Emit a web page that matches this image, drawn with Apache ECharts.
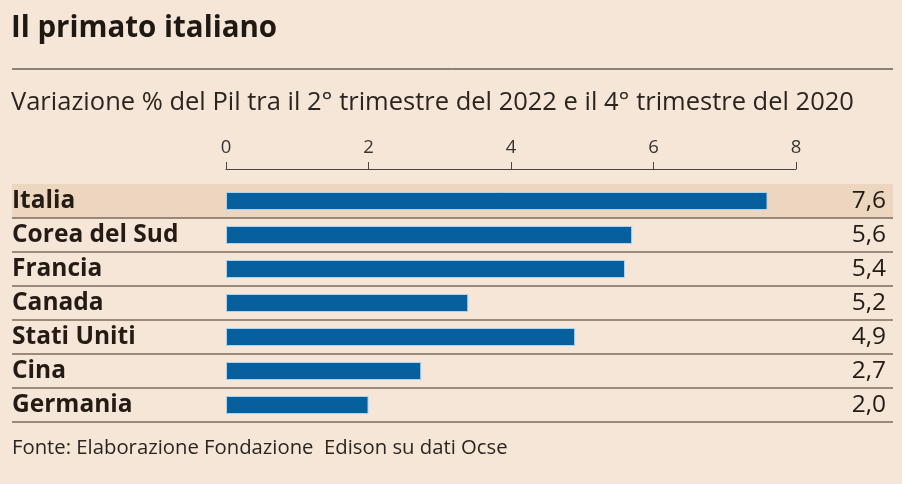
<!DOCTYPE html>
<html>
<head>
<meta charset="utf-8">
<script src="https://cdn.jsdelivr.net/npm/echarts@6/dist/echarts.min.js"></script>
<style>
html,body{margin:0;padding:0;background:#f5e6d8;}
#c{width:902px;height:484px;}
</style>
</head>
<body>
<div id="c"></div>
<script>
// Data
const categories = ['Italia', 'Corea del Sud', 'Francia', 'Canada', 'Stati Uniti', 'Cina', 'Germania'];
// bar lengths as drawn in the original graphic
const barValues = [7.6, 5.7, 5.6, 3.4, 4.9, 2.74, 2.0];
// printed value labels
const valueLabels = ['7,6', '5,6', '5,4', '5,2', '4,9', '2,7', '2,0'];
const xTicks = [0, 2, 4, 6, 8];

const FONT = '"Open Sans"';
const chart = echarts.init(document.getElementById('c'), null, {renderer: 'canvas'});

const option = {
  backgroundColor: '#f5e6d8',
  animation: false,
  textStyle: {fontFamily: FONT},
  title: [
    {text: 'Il primato italiano', left: 6, top: 9, padding: 5,
     textStyle: {fontFamily: FONT, fontSize: 29.5, fontWeight: 'bold', color: '#1f1914'}},
    {text: 'Variazione % del Pil tra il 2° trimestre del 2022 e il 4° trimestre del 2020', left: 6, top: 85, padding: 5,
     textStyle: {fontFamily: FONT, fontSize: 25.5, fontWeight: 'normal', color: '#2b2520'}},
    {text: 'Fonte: Elaborazione Fondazione  Edison su dati Ocse', left: 7, top: 433, padding: 5,
     textStyle: {fontFamily: FONT, fontSize: 20.3, fontWeight: 'normal', color: '#2b2520'}}
  ],
  graphic: [
    {type: 'line', shape: {x1: 12, y1: 69, x2: 893, y2: 69}, style: {stroke: '#231c16', lineWidth: 1}}
  ],
  grid: [
    {left: 12, right: 9, top: 184, height: 238},
    {left: 226, right: 106, top: 184, height: 238}
  ],
  xAxis: [
    {gridIndex: 0, type: 'value', show: false, min: 0, max: 1},
    {gridIndex: 1, type: 'value', position: 'top', min: 0, max: 8, interval: 2, offset: 15,
     axisLine: {show: true, lineStyle: {color: '#4a4440', width: 1}},
     axisTick: {show: true, length: 7, lineStyle: {color: '#4a4440', width: 1}},
     axisLabel: {fontFamily: FONT, fontSize: 18.5, color: '#3a3430', margin: 12,
                 formatter: v => xTicks.includes(v) ? String(v) : ''},
     splitLine: {show: false}}
  ],
  yAxis: [
    {gridIndex: 0, type: 'category', data: categories, inverse: true,
     axisLine: {show: false}, axisTick: {show: false}, axisLabel: {show: false},
     splitLine: {show: true, showMinLine: false, lineStyle: {color: '#7a6b5e', width: 1.5}},
     splitArea: {show: true, areaStyle: {color: ['#ecd6bf', 'rgba(0,0,0,0)', 'rgba(0,0,0,0)', 'rgba(0,0,0,0)', 'rgba(0,0,0,0)', 'rgba(0,0,0,0)', 'rgba(0,0,0,0)']}}},
    {gridIndex: 1, type: 'category', data: categories, inverse: true,
     axisLine: {show: false}, axisTick: {show: false},
     axisLabel: {align: 'left', margin: 214, fontFamily: FONT, fontSize: 24.5, fontWeight: 'bold', color: '#231b14'},
     splitLine: {show: false}},
    {gridIndex: 1, type: 'category', data: valueLabels, inverse: true, position: 'right',
     axisLine: {show: false}, axisTick: {show: false},
     axisLabel: {align: 'right', margin: 90, fontFamily: FONT, fontSize: 24.5, color: '#231b14'},
     splitLine: {show: false}}
  ],
  series: [
    {type: 'bar', xAxisIndex: 1, yAxisIndex: 1, data: barValues, barWidth: 18,
     itemStyle: {color: '#07609e', borderColor: '#a9d3ee', borderWidth: 1},
     silent: true}
  ]
};
chart.setOption(option);
</script>
</body>
</html>
